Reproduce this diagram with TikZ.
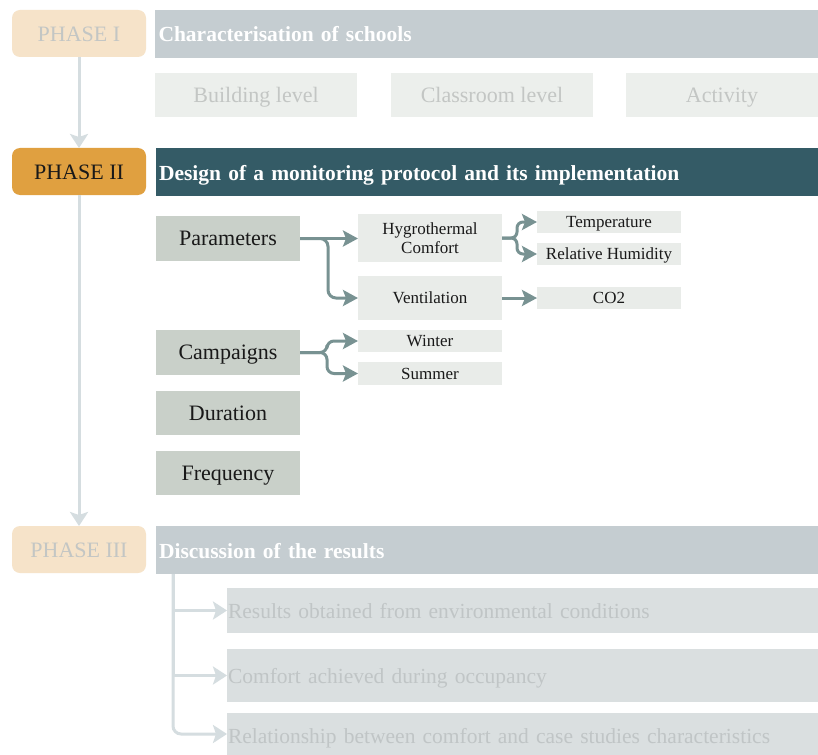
\documentclass[tikz,border=0pt]{standalone}
\usepackage{fontspec}
\setmainfont{Liberation Serif}
\usetikzlibrary{arrows.meta}
\definecolor{phaseoff}{HTML}{F6E3C9}
\definecolor{phaseon}{HTML}{E0A040}
\definecolor{headoff}{HTML}{C5CDD1}
\definecolor{headon}{HTML}{345B66}
\definecolor{subboxoff}{HTML}{ECEFEC}
\definecolor{textoff}{HTML}{C3C6C4}
\definecolor{mainbox}{HTML}{C9D0C9}
\definecolor{leafbox}{HTML}{E9ECE9}
\definecolor{resbox}{HTML}{DADFE0}
\definecolor{restext}{HTML}{C0C5C6}
\definecolor{tealline}{HTML}{789292}
\definecolor{lightline}{HTML}{D5DDE0}
\tikzset{
  base/.style={anchor=north west, inner sep=0pt, outer sep=0pt, draw=none},
  phasebox/.style={base, rounded corners=8pt, minimum width=134pt, minimum height=47pt,
    text height=21pt, text depth=5pt, font=\fontsize{22}{26}\selectfont},
  headbox/.style={base, minimum width=662pt, minimum height=48pt, text width=656pt,
    inner xsep=3pt, align=left, text height=21pt, text depth=5pt,
    text=white, font=\fontsize{21.5}{25}\selectfont\bfseries},
  charbox/.style={base, fill=subboxoff, minimum height=44pt, text=textoff,
    text height=20pt, text depth=5pt, font=\fontsize{22}{26}\selectfont},
  mainitem/.style={base, fill=mainbox, minimum width=144pt, minimum height=45pt,
    text height=19.5pt, text depth=5pt, text=black!90, font=\fontsize{22}{26}\selectfont},
  leafitem/.style={base, fill=leafbox, minimum width=144pt, text=black!90,
    text height=15.5pt, text depth=4pt, font=\fontsize{17}{20}\selectfont},
  leafpair/.style={base, fill=leafbox, minimum width=144pt, text=black!90,
    align=center, font=\fontsize{17}{19.5}\selectfont},
  resitem/.style={base, fill=resbox, minimum width=591pt, text width=589pt, inner xsep=1pt,
    align=left, text height=20pt, text depth=5pt, text=restext,
    font=\fontsize{21.5}{26}\selectfont},
  tealarrow/.style={draw=tealline, line width=3pt,
    -{Stealth[length=15pt, width=16pt, inset=3pt]}},
  lightarrow/.style={draw=lightline, line width=3pt,
    -{Stealth[length=14pt, width=18pt, inset=3pt]}},
}
\begin{document}
\begin{tikzpicture}[x=1pt, y=-1pt]
\useasboundingbox[fill=white] (0,0) rectangle (818,754);
\begin{scope}
\clip (0,0) rectangle (818,754);

% Phase I: characterisation
\node[phasebox, fill=phaseoff, text=textoff] (p1) at (12,10) {PHASE I};
\node[headbox, fill=headoff, minimum width=663pt] (h1) at (155,10) {Characterisation of schools};
\node[charbox, minimum width=202pt] (c1) at (155,73) {Building level};
\node[charbox, minimum width=202pt] (c2) at (391,73) {Classroom level};
\node[charbox, minimum width=192pt] (c3) at (626,73) {Activity};

% Phase II: monitoring protocol
\node[phasebox, fill=phaseon, text=black!90] (p2) at (12,148) {PHASE II};
\node[headbox, fill=headon] (h2) at (156,148) {Design of a monitoring protocol and its implementation};

\node[mainitem] (par) at (156,216) {Parameters};
\node[leafpair, minimum height=48pt] (hyg) at (358,214) {Hygrothermal\\Comfort};
\node[leafitem, minimum height=22pt] (tmp) at (537,211) {Temperature};
\node[leafitem, minimum height=22pt] (rh) at (537,243) {Relative Humidity};
\node[leafitem, minimum height=44pt] (ven) at (358,276) {Ventilation};
\node[leafitem, minimum height=22pt] (co) at (537,287) {CO2};

\node[mainitem] (cam) at (156,330) {Campaigns};
\node[leafitem, minimum height=22pt] (win) at (358,330) {Winter};
\node[leafitem, minimum height=23pt] (sum) at (358,362) {Summer};
\node[mainitem, minimum height=44pt] (dur) at (156,391) {Duration};
\node[mainitem, minimum height=44pt] (fre) at (156,451) {Frequency};

\draw[tealarrow] (par.east) -- (hyg.west |- par.east);
\draw[tealarrow, rounded corners=8pt] (par.east) -- ++(28,0) |- (ven.west);
\draw[tealarrow, rounded corners=6pt] (hyg.east) -- ++(15,0) |- (tmp.west);
\draw[tealarrow, rounded corners=6pt] (hyg.east) -- ++(15,0) |- (rh.west);
\draw[tealarrow] (ven.west -| ven.east) -- (co.west);
\draw[tealarrow, rounded corners=7pt] (cam.east) -- ++(27,0) |- (win.west);
\draw[tealarrow, rounded corners=7pt] (cam.east) -- ++(27,0) |- (sum.west);

% Phase III: discussion
\node[phasebox, fill=phaseoff, text=textoff] (p3) at (12,526) {PHASE III};
\node[headbox, fill=headoff] (h3) at (156,526) {Discussion of the results};
\node[resitem, minimum height=45pt] (r1) at (227,588) {Results obtained from environmental conditions};
\node[resitem, minimum height=53pt] (r2) at (227,649) {Comfort achieved during occupancy};
\node[resitem, minimum height=42pt, text height=23pt] (r3) at (227,713) {Relationship between comfort and case studies characteristics};

\draw[lightarrow] (p1.south) -- (p2.north);
\draw[lightarrow] (p2.south) -- (p3.north);

\coordinate (br) at (173,574);
\draw[lightarrow] (br) |- (r1.west);
\draw[lightarrow] (br) |- (r2.west);
\draw[lightarrow, rounded corners=8pt] (br) |- (r3.west);
\end{scope}
\end{tikzpicture}
\end{document}
